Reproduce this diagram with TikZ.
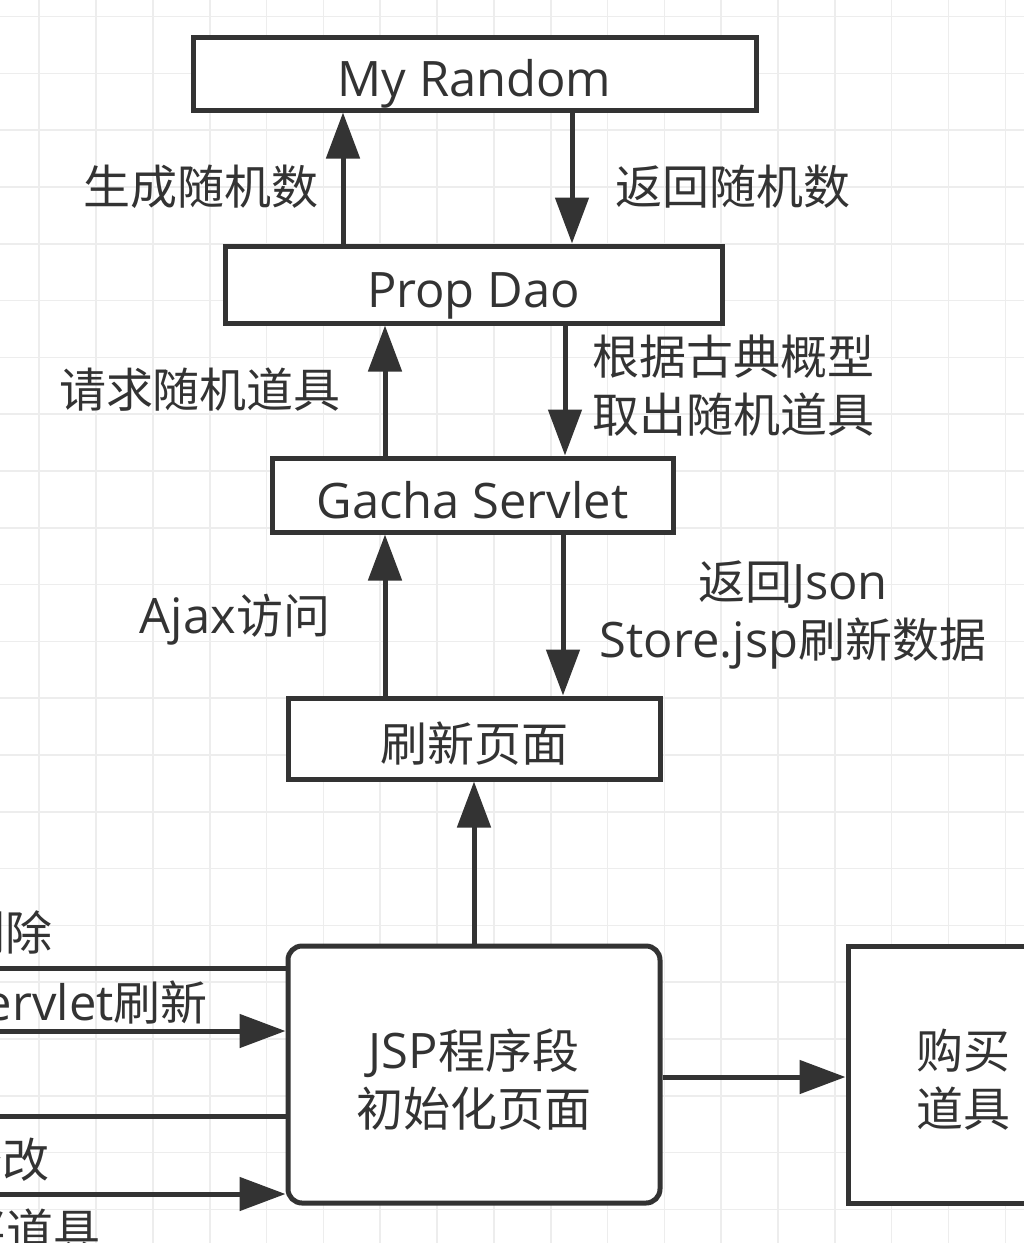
\documentclass[tikz,border=0pt]{standalone}
\usepackage{fontspec}
\setmainfont{Open Sans}[Scale=1.04]
\newfontfamily\cjk{Noto Sans CJK SC}
\usetikzlibrary{arrows.meta}
\definecolor{ink}{HTML}{333333}
\definecolor{gridc}{HTML}{EDEDED}
\newcommand\C[1]{{\cjk #1}}
\begin{document}
\begin{tikzpicture}[x=1pt,y=-1pt,
  font=\fontsize{47}{58}\selectfont,
  gridline/.style={draw=gridc, line width=1.6pt},
  box/.style={draw=ink, fill=white, line width=5pt, inner sep=0pt, text=ink, align=center},
  one/.style={text height=46pt, text depth=0pt},
  lbl/.style={inner sep=0pt, text=ink, align=center},
  ln/.style={draw=ink, line width=5pt},
  arr/.style={draw=ink, line width=5pt, -{Triangle[length=46pt,width=33pt]}}]
\useasboundingbox (0,0) rectangle (1024,1243);
\clip (0,0) rectangle (1024,1243);
\fill[white] (0,0) rectangle (1024,1243);
\foreach \k in {0,...,18} \draw[gridline] ({-17.6+56.83*\k},0) -- ({-17.6+56.83*\k},1243);
\foreach \k in {0,...,21} \draw[gridline] (0,{16.5+56.8*\k}) -- (1024,{16.5+56.8*\k});

% boxes
\node[box, one, minimum width=563pt, minimum height=73pt] (rand) at (474.5,73.5) {My Random};
\node[box, one, minimum width=497pt, minimum height=77pt] (prop) at (473.5,284.5) {Prop Dao};
\node[box, one, minimum width=401pt, minimum height=74pt] (gacha) at (472.5,495) {Gacha Servlet};
\node[box, one, minimum width=372pt, minimum height=81pt] (refresh) at (474,738.5) {\C{刷新页面}};
\node[box, rounded corners=14pt, minimum width=372pt, minimum height=257pt] (jsp) at (474,1074.5) {};
\node[lbl] (jsptext) at (474,1080) {JSP\C{程序段}\\\C{初始化页面}};
\node[box, minimum width=230pt, minimum height=257pt] (buy) at (963,1074.5) {};
\node[lbl] (buytext) at (963,1080) {\C{购买}\\\C{道具}};

% labels
\node[lbl] (t1) at (200.5,187) {\C{生成随机数}};
\node[lbl] (t2) at (732.5,187) {\C{返回随机数}};
\node[lbl] (t3) at (200,390) {\C{请求随机道具}};
\node[lbl] (t4) at (733.5,386) {\C{根据古典概型}\\\C{取出随机道具}};
\node[lbl] (t5) at (235,620) {Ajax\C{访问}};
\node[lbl] (t6) at (793,615) {\C{返回}Json\\Store.jsp\C{刷新数据}};
\node[lbl, anchor=east] (t7) at (53,932) {\C{删除}};
\node[lbl, anchor=east] (t8) at (208,1003) {Servlet\C{刷新}};
\node[lbl, anchor=east] (t9) at (50,1160) {\C{修改}};
\node[lbl, anchor=east] (t10) at (101,1231) {\C{买道具}};

% connectors
\draw[arr] (343,0 |- prop.north) -- (343,0 |- rand.south);
\draw[arr] (572,0 |- rand.south) -- (572,0 |- prop.north);
\draw[arr] (385,0 |- gacha.north) -- (385,0 |- prop.south);
\draw[arr] (565,0 |- prop.south) -- (565,0 |- gacha.north);
\draw[arr] (385,0 |- refresh.north) -- (385,0 |- gacha.south);
\draw[arr] (563,0 |- gacha.south) -- (563,0 |- refresh.north);
\draw[arr] (jsp.north) -- (refresh.south);
\draw[arr] (jsp.east |- 0,1077) -- (buy.west |- 0,1077);

\coordinate (e1) at (-5,968);
\coordinate (e2) at (-5,1031);
\coordinate (e3) at (-5,1116);
\coordinate (e4) at (-5,1194);
\draw[ln] (jsp.west |- e1) -- (e1);
\draw[arr] (e2) -- (jsp.west |- e2);
\draw[ln] (jsp.west |- e3) -- (e3);
\draw[arr] (e4) -- (jsp.west |- e4);
\end{tikzpicture}
\end{document}
